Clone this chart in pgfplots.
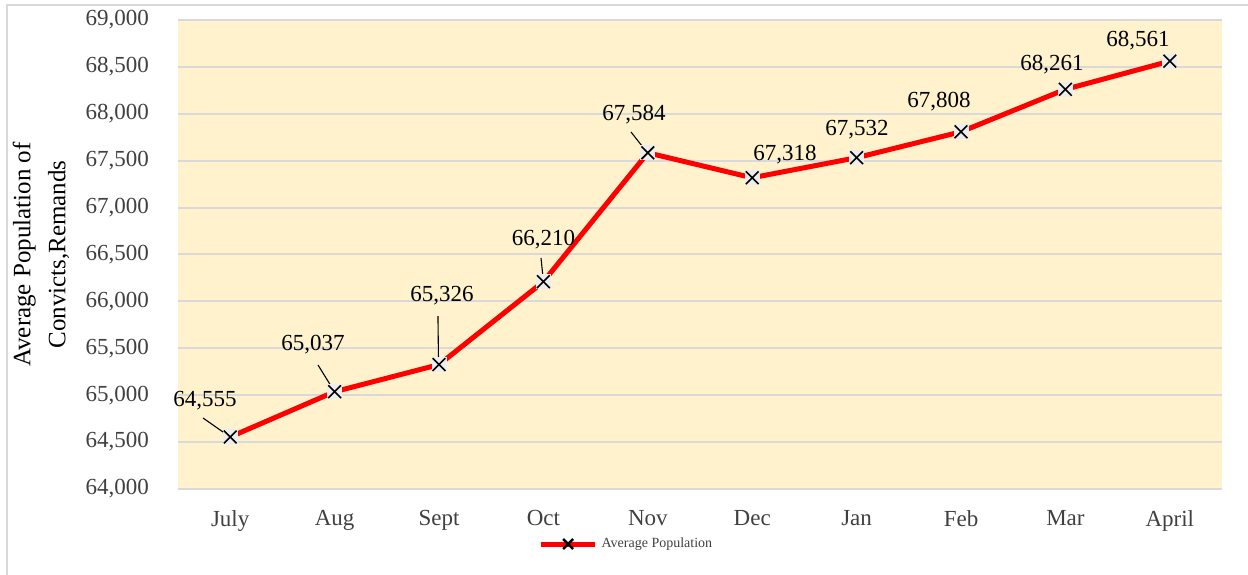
\documentclass[border=0pt]{standalone}
\usepackage{pgfplots}
\pgfplotsset{compat=1.18}
\usepackage{fontspec}
\setmainfont{Liberation Serif}
\definecolor{bgyellow}{HTML}{FFF2CC}
\definecolor{gridgray}{HTML}{D9D9D9}
\definecolor{tickgray}{HTML}{404040}
\definecolor{markbg}{HTML}{EDEDED}
\definecolor{legred}{HTML}{FF0000}
\pgfplotstableread{
x y
0 64555
1 65037
2 65326
3 66210
4 67584
5 67318
6 67532
7 67808
8 68261
9 68561
}\datatable
\begin{document}
\begin{tikzpicture}
\begin{axis}[
  scale only axis,
  width=522pt, height=234.5pt,
  xmin=-0.5, xmax=9.5,
  ymin=64000, ymax=69000,
  ytick={64000,64500,...,69000},
  scaled y ticks=false,
  xtick={0,...,9},
  xticklabels={July,Aug,Sept,Oct,Nov,Dec,Jan,Feb,Mar,April},
  clip=false,
  axis background/.style={fill=bgyellow},
  axis line style={draw=none},
  major tick length=0pt,
  ymajorgrids,
  major grid style={color=gridgray, line width=1pt},
  /pgf/number format/.cd, 1000 sep={,}, fixed, assume math mode=true,
  /pgfplots/.cd,
  tick label style={font=\fontsize{11.5}{13}\selectfont, text=tickgray},
  yticklabel style={xshift=-11pt},
  xticklabel style={yshift=-7pt},
  ylabel={Average Population of\\Convicts,Remands},
  ylabel style={at={(rel axis cs:-0.1312,0.5)}, anchor=center, align=center, font=\fontsize{12.5}{17.5}\selectfont, text=black},
  legend style={at={(rel axis cs:0.345,-0.1173)}, anchor=west, draw=none, fill=none, font=\fontsize{7}{8}\selectfont, text=tickgray, inner sep=0pt},
]
\addplot[legred, line width=2.5pt, forget plot] table[x=x,y=y] {\datatable};
\addplot[only marks, mark=square*, mark size=3.5pt, color=markbg, mark options={draw=markbg, fill=markbg, line width=0pt}, forget plot] table[x=x,y=y] {\datatable};
\addplot[only marks, mark=x, mark size=4.5pt, mark options={black, line width=0.8pt}, forget plot] table[x=x,y=y] {\datatable};
\addlegendimage{legred, line width=2.5pt, mark=x, mark size=3.5pt, mark options={black, line width=1.2pt},
  legend image code/.code={\draw[mark repeat=2,mark phase=2] plot coordinates {(0cm,0cm)(0.475cm,0cm)(0.95cm,0cm)};}}
\addlegendentry{Average Population}

% leader lines
\draw[black, line width=0.55pt] (axis cs:-0.2605,64757) -- (axis cs:-0.04,64585);
\draw[black, line width=0.55pt] (axis cs:0.841,65322) -- (axis cs:0.97,65090);
\draw[black, line width=0.55pt] (axis cs:1.99,65844) -- (axis cs:1.995,65390);
\draw[black, line width=0.55pt] (axis cs:2.977,66463) -- (axis cs:2.995,66270);
\draw[black, line width=0.55pt] (axis cs:3.839,67806) -- (axis cs:3.97,67620);

% data labels
\begin{scope}[every node/.style={font=\fontsize{11.5}{13}\selectfont, text=black, anchor=center, inner sep=0pt}]
\node at (axis cs:-0.241,64938) {64,555};
\node at (axis cs:0.793,65535) {65,037};
\node at (axis cs:2.029,66058) {65,326};
\node at (axis cs:3.0,66655) {66,210};
\node at (axis cs:3.868,67987) {67,584};
\node at (axis cs:5.314,67561) {67,318};
\node at (axis cs:6.004,67827) {67,532};
\node at (axis cs:6.789,68126) {67,808};
\node at (axis cs:7.872,68520) {68,261};
\node at (axis cs:8.695,68781) {68,561};
\end{scope}

% outer border (left and top)
\draw[gridgray, line width=1pt] (rel axis cs:-0.16379,-0.19) -- (rel axis cs:-0.16379,1.03198) -- (rel axis cs:1.03,1.03198);
\coordinate (bl) at (rel axis cs:-0.17050,-0.18337);
\coordinate (tr) at (rel axis cs:1.02490,1.04264);
\end{axis}
\pgfresetboundingbox
\useasboundingbox (bl) rectangle (tr);
\end{tikzpicture}
\end{document}
